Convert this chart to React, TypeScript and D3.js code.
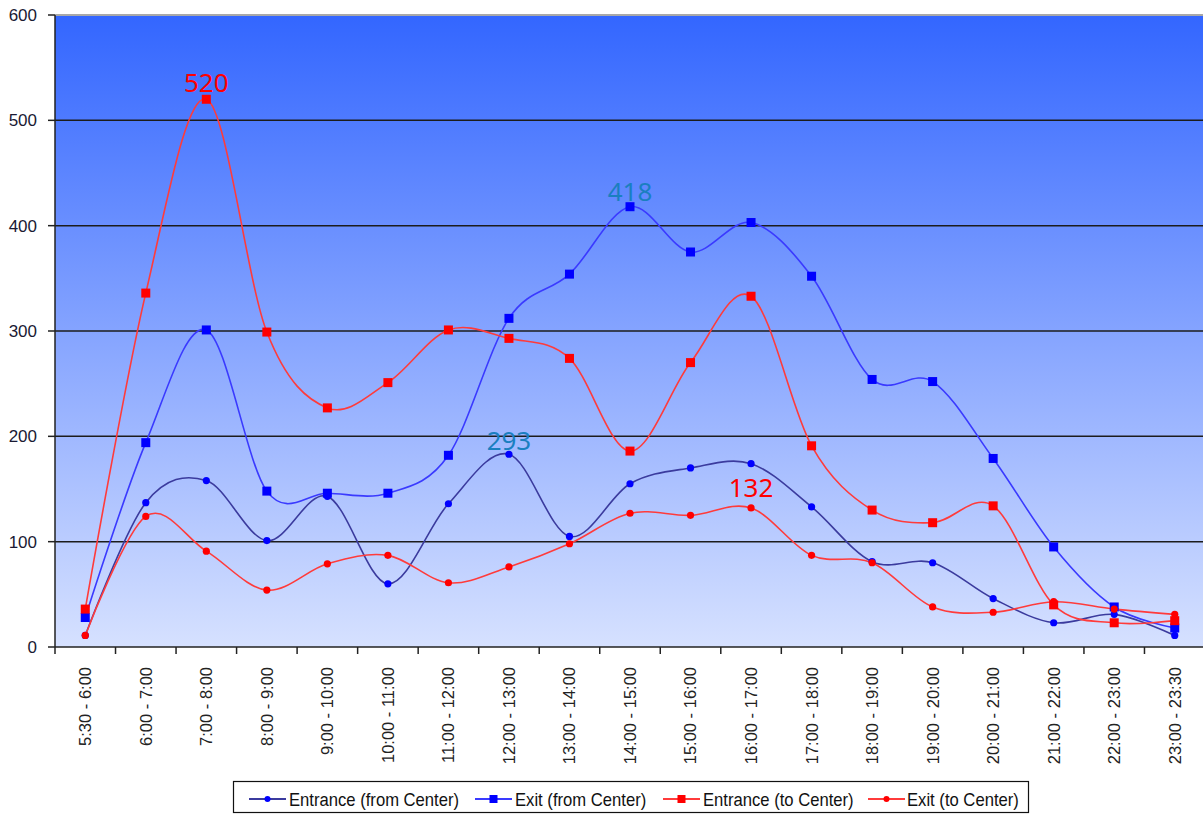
import React from "react";
import * as d3 from "d3";

// Hourly traffic counts, one value per time slot
const categories = [
  "5:30 - 6:00", "6:00 - 7:00", "7:00 - 8:00", "8:00 - 9:00", "9:00 - 10:00",
  "10:00 - 11:00", "11:00 - 12:00", "12:00 - 13:00", "13:00 - 14:00", "14:00 - 15:00",
  "15:00 - 16:00", "16:00 - 17:00", "17:00 - 18:00", "18:00 - 19:00", "19:00 - 20:00",
  "20:00 - 21:00", "21:00 - 22:00", "22:00 - 23:00", "23:00 - 23:30",
];
const entranceFromCenter = [11, 137, 158, 101, 143, 60, 136, 183, 105, 155, 170, 174, 133, 81, 80, 46, 23, 31, 11];
const exitFromCenter = [28, 194, 301, 148, 146, 146, 182, 312, 354, 418, 375, 403, 352, 254, 252, 179, 95, 38, 18];
const entranceToCenter = [36, 336, 520, 299, 227, 251, 301, 293, 274, 186, 270, 333, 191, 130, 118, 134, 40, 23, 25];
const exitToCenter = [11, 124, 91, 54, 79, 87, 61, 76, 98, 127, 125, 132, 87, 80, 38, 33, 43, 36, 31];
const yTicks = [0, 100, 200, 300, 400, 500, 600];

type Series = {
  name: string;
  values: number[];
  line: string;
  fill: string;
  marker: "circle" | "square";
};

const series: Series[] = [
  { name: "Entrance (from Center)", values: entranceFromCenter, line: "#3b3b9e", fill: "#0000ff", marker: "circle" },
  { name: "Exit (from Center)", values: exitFromCenter, line: "#3a3aff", fill: "#0000ff", marker: "square" },
  { name: "Entrance (to Center)", values: entranceToCenter, line: "#ff3b3b", fill: "#ff0000", marker: "square" },
  { name: "Exit (to Center)", values: exitToCenter, line: "#ff3b3b", fill: "#ff0000", marker: "circle" },
];

// Callouts: text value taken from one series, placed above the point of another
const callouts = [
  { valueSeries: 2, anchorSeries: 2, index: 2, color: "#ff0000", gap: 7 },
  { valueSeries: 1, anchorSeries: 1, index: 9, color: "#1a7fc0", gap: 6 },
  { valueSeries: 2, anchorSeries: 0, index: 7, color: "#1a7fc0", gap: 4 },
  { valueSeries: 3, anchorSeries: 3, index: 11, color: "#ff0000", gap: 11 },
];

const W = 1203;
const H = 814;
const plot = { left: 55, right: 1205, top: 15, bottom: 647 };

export default function App() {
  const x = d3.scaleBand<string>().domain(categories).range([plot.left, plot.right]).padding(0);
  const y = d3.scaleLinear().domain([0, 600]).range([plot.bottom, plot.top]);
  const cx = (i: number) => (x(categories[i]) as number) + x.bandwidth() / 2;

  const line = d3
    .line<number>()
    .x((_, i) => cx(i))
    .y((v) => y(v))
    .curve(d3.curveCatmullRom.alpha(0));

  const boundaries = d3.range(categories.length + 1).map((i) => plot.left + i * x.bandwidth());

  const marker = (s: Series, px: number, py: number, key: string) =>
    s.marker === "square" ? (
      <rect key={key} x={px - 4.5} y={py - 4.5} width={9} height={9} fill={s.fill} />
    ) : (
      <circle key={key} cx={px} cy={py} r={3.6} fill={s.fill} />
    );

  const legendItems = [
    { lineX: 249, textX: 289 },
    { lineX: 475, textX: 515 },
    { lineX: 663, textX: 703 },
    { lineX: 868, textX: 907 },
  ];

  return (
    <svg
      width={W}
      height={H}
      style={{ position: "absolute", left: 0, top: 0, background: "#fff" }}
      fontFamily="'Liberation Sans', Arial, sans-serif"
    >
      <defs>
        <linearGradient id="bg" x1="0" y1="0" x2="0" y2="1">
          <stop offset="0" stopColor="#3366ff" />
          <stop offset="1" stopColor="#d6e1ff" />
        </linearGradient>
        <clipPath id="plotClip">
          <rect x={plot.left} y={plot.top} width={plot.right - plot.left} height={plot.bottom - plot.top} />
        </clipPath>
      </defs>

      {/* plot background */}
      <rect x={plot.left} y={plot.top} width={plot.right - plot.left} height={plot.bottom - plot.top} fill="url(#bg)" />
      <line x1={plot.left} x2={plot.right} y1={plot.top} y2={plot.top} stroke="#a8a8a8" strokeWidth={2} />

      {/* horizontal gridlines */}
      {yTicks.filter((t) => t > 0 && t < 600).map((t) => (
        <line key={t} x1={plot.left} x2={plot.right} y1={y(t)} y2={y(t)} stroke="#1c1c1c" strokeWidth={1.5} />
      ))}

      {/* y axis */}
      <line x1={plot.left} x2={plot.left} y1={plot.top} y2={plot.bottom} stroke="#222" strokeWidth={1.5} />
      {yTicks.map((t) => (
        <g key={t}>
          <line x1={plot.left - 7} x2={plot.left} y1={y(t)} y2={y(t)} stroke="#222" strokeWidth={1.5} />
          <text x={37} y={y(t)} dy="0.36em" textAnchor="end" fontSize={17} fill="#1a1a33">
            {t}
          </text>
        </g>
      ))}

      {/* x axis */}
      <line x1={plot.left} x2={plot.right} y1={plot.bottom} y2={plot.bottom} stroke="#222" strokeWidth={1.5} />
      {boundaries.map((bx, i) => (
        <line key={i} x1={bx} x2={bx} y1={plot.bottom} y2={plot.bottom + 7} stroke="#222" strokeWidth={1.5} />
      ))}
      {categories.map((c, i) => (
        <text
          key={c}
          transform={`translate(${cx(i)},667) rotate(-90)`}
          dy="0.36em"
          textAnchor="end"
          fontSize={16.5}
          fill="#222"
        >
          {c}
        </text>
      ))}

      {/* series */}
      <g clipPath="url(#plotClip)">
        {series.map((s) => (
          <path key={s.name} d={line(s.values) ?? ""} fill="none" stroke={s.line} strokeWidth={1.6} />
        ))}
        {series.map((s, si) => (
          <g key={s.name + "-m"}>{s.values.map((v, i) => marker(s, cx(i), y(v), `${si}-${i}`))}</g>
        ))}
      </g>

      {/* value callouts */}
      {callouts.map((c, k) => {
        const v = series[c.valueSeries].values[c.index];
        const a = series[c.anchorSeries].values[c.index];
        return (
          <text
            key={k}
            x={cx(c.index)}
            y={y(a) - c.gap}
            textAnchor="middle"
            fontFamily="'Noto Sans', 'Open Sans', sans-serif"
            fontSize={26}
            fill={c.color}
          >
            {v}
          </text>
        );
      })}

      {/* legend */}
      <rect x={233.5} y={781.5} width={795} height={31} fill="#fff" stroke="#111" strokeWidth={1.2} />
      {series.map((s, i) => {
        const it = legendItems[i];
        return (
          <g key={s.name}>
            <line x1={it.lineX} x2={it.lineX + 37} y1={799} y2={799} stroke={s.line} strokeWidth={1.8} />
            {s.marker === "square" ? (
              <rect x={it.lineX + 18.5 - 4} y={795} width={8} height={8} fill={s.fill} />
            ) : (
              <circle cx={it.lineX + 18.5} cy={799} r={3} fill={s.fill} />
            )}
            <g transform={`translate(${it.textX},799) scale(0.9,1)`}>
              <text dy="0.36em" fontSize={18.5} fill="#111">
                {s.name}
              </text>
            </g>
          </g>
        );
      })}
    </svg>
  );
}
